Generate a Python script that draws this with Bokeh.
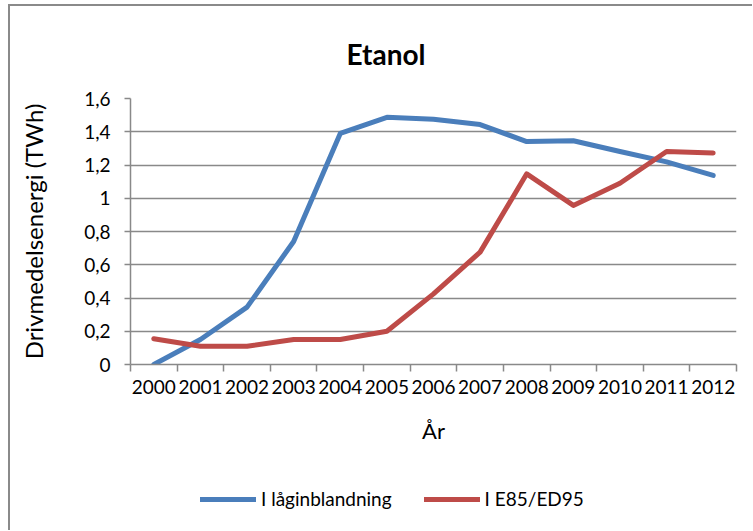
from bokeh.plotting import figure
from bokeh.layouts import column
from bokeh.models import Range1d, FixedTicker, Legend, LegendItem
from bokeh.embed import file_html
from bokeh.resources import INLINE

years = ["2000", "2001", "2002", "2003", "2004", "2005", "2006",
         "2007", "2008", "2009", "2010", "2011", "2012"]
laginblandning = [0.0, 0.15, 0.345, 0.74, 1.39, 1.487, 1.475,
                  1.443, 1.341, 1.346, 1.281, 1.219, 1.137]
e85_ed95 = [0.155, 0.11, 0.11, 0.15, 0.15, 0.2, 0.425,
            0.676, 1.147, 0.957, 1.09, 1.281, 1.272]
yticks = [0.0, 0.2, 0.4, 0.6, 0.8, 1.0, 1.2, 1.4, 1.6]
ytick_labels = ["0", "0,2", "0,4", "0,6", "0,8", "1", "1,2", "1,4", "1,6"]
series_names = ["I låginblandning", "I E85/ED95"]

FONT = "Lato"
GRAY = "#898989"
BLUE = "#4A7EBB"
RED = "#BE4B48"

xc = [i + 0.5 for i in range(len(years))]

W = 742
p = figure(width=W, height=464, output_backend="svg", toolbar_location=None,
           x_range=Range1d(0, len(years)), y_range=Range1d(0, 1.6),
           min_border_left=120, min_border_right=16,
           min_border_top=92, min_border_bottom=106)
p.outline_line_color = None
p.background_fill_color = "white"
p.border_fill_color = "white"

# title
p.title.text = "Etanol"
p.title.text_font = FONT
p.title.text_font_size = "28px"
p.title.text_font_style = "bold"
p.title.text_color = "black"
p.title.align = "left"
p.title.offset = 216
p.title.standoff = 56

# lines
p.line(xc, laginblandning, line_color=BLUE, line_width=5,
       line_join="round", line_cap="round")
p.line(xc, e85_ed95, line_color=RED, line_width=5,
       line_join="round", line_cap="round")

# x axis
xa = p.xaxis[0]
xa.ticker = FixedTicker(ticks=xc, minor_ticks=list(range(len(years) + 1)))
xa.major_label_overrides = {v: y for v, y in zip(xc, years)}
xa.major_tick_line_color = None
xa.major_tick_out = 0
xa.major_tick_in = 0
xa.minor_tick_out = 7
xa.minor_tick_in = 0
xa.minor_tick_line_color = GRAY
xa.minor_tick_line_width = 1.5
xa.axis_line_color = GRAY
xa.axis_line_width = 1.5
xa.major_label_text_font = FONT
xa.major_label_text_font_size = "19px"
xa.major_label_text_color = "black"
xa.major_label_standoff = 8
xa.axis_label = "År"
xa.axis_label_text_font = FONT
xa.axis_label_text_font_size = "22px"
xa.axis_label_text_font_style = "normal"
xa.axis_label_text_color = "black"
xa.axis_label_standoff = 20

# y axis
ya = p.yaxis[0]
ya.ticker = FixedTicker(ticks=yticks, minor_ticks=[])
ya.major_label_overrides = {v: s for v, s in zip(yticks, ytick_labels)}
ya.major_tick_out = 6
ya.major_tick_in = 0
ya.major_tick_line_color = GRAY
ya.major_tick_line_width = 1.5
ya.minor_tick_line_color = None
ya.axis_line_color = GRAY
ya.axis_line_width = 1.5
ya.major_label_text_font = FONT
ya.major_label_text_font_size = "19px"
ya.major_label_text_color = "black"
ya.major_label_standoff = 14
ya.axis_label = "Drivmedelsenergi (TWh)"
ya.axis_label_text_font = FONT
ya.axis_label_text_font_size = "24px"
ya.axis_label_text_font_style = "normal"
ya.axis_label_text_color = "black"
ya.axis_label_standoff = 33

p.xgrid.grid_line_color = None
p.ygrid.grid_line_color = GRAY
p.ygrid.grid_line_width = 1.5
p.ygrid.ticker = FixedTicker(ticks=yticks[1:])

# legend strip (its own small figure so the legend is not clipped)
lg = figure(width=W, height=60, output_backend="svg", toolbar_location=None,
            x_range=Range1d(100, 101), y_range=Range1d(100, 101),
            x_axis_type=None, y_axis_type=None,
            min_border_left=0, min_border_right=0,
            min_border_top=0, min_border_bottom=0)
lg.outline_line_color = None
lg.xgrid.grid_line_color = None
lg.ygrid.grid_line_color = None
lr1 = lg.line(xc, laginblandning, line_color=BLUE, line_width=5, line_cap="round")
lr2 = lg.line(xc, e85_ed95, line_color=RED, line_width=5, line_cap="round")

legend = Legend(items=[LegendItem(label=series_names[0], renderers=[lr1]),
                       LegendItem(label=series_names[1], renderers=[lr2])],
                orientation="horizontal", location=(70, 20),
                glyph_width=56, glyph_height=20, label_standoff=5, spacing=32,
                padding=0, margin=0, border_line_color=None,
                background_fill_alpha=0,
                label_text_font=FONT, label_text_font_size="19px",
                label_text_color="black")
lg.add_layout(legend, "center")

layout = column(p, lg, spacing=0,
                styles={"margin-left": "8px", "margin-top": "4px",
                        "border-left": "2px solid #8a8a8a",
                        "border-top": "2px solid #8a8a8a"})

open("out.html", "w").write(file_html(layout, INLINE))
